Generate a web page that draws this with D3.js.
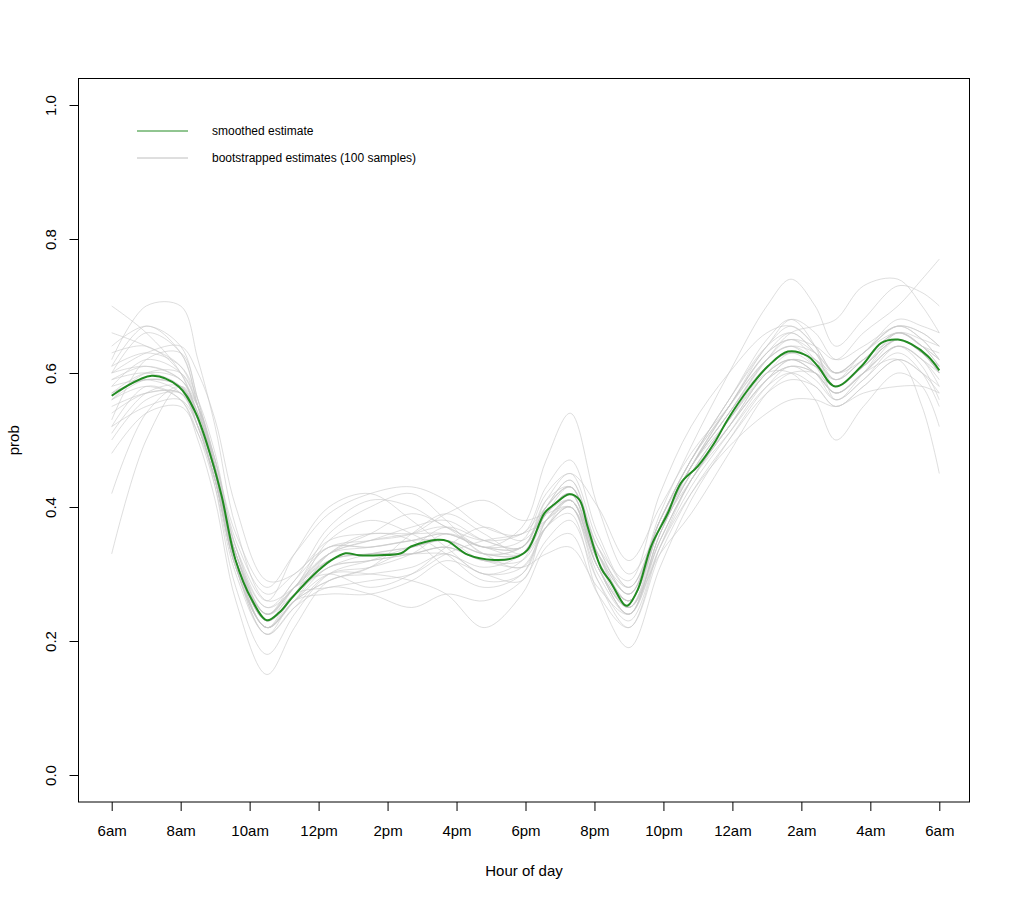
<!DOCTYPE html>
<html>
<head>
<meta charset="utf-8">
<script src="https://cdn.jsdelivr.net/npm/d3@7"></script>
<style>
  body { margin: 0; background: #fff; }
  svg { font-family: "Liberation Sans", Arial, sans-serif; }
</style>
</head>
<body>
<div id="chart"></div>
<script>
// hours after 6am
var tickHours = [0, 2, 4, 6, 8, 10, 12, 14, 16, 18, 20, 22, 24]
var tickLabels = ['6am', '8am', '10am', '12pm', '2pm', '4pm', '6pm', '8pm', '10pm', '12am', '2am', '4am', '6am']
var yTicks = [0, 0.2, 0.4, 0.6, 0.8, 1.0]

// smoothed estimate (hour, prob)
var smoothHours = [0, 1.16, 1.94, 2.43, 2.9, 3.19, 3.59, 4.06, 4.5, 4.85, 5.22, 5.8, 6.38, 6.78, 7.17, 7.75, 8.39, 8.68, 9.45, 9.74, 10.32, 11.09, 11.67, 12.06, 12.55, 12.84, 13.27, 13.56, 13.8, 14.19, 14.48, 14.87, 14.97, 15.26, 15.64, 16.13, 16.51, 17.0, 17.48, 17.87, 18.45, 19.03, 19.61, 20.19, 20.48, 20.98, 21.74, 22.32, 22.8, 23.19, 23.67, 24]
var smoothProb = [0.566, 0.596, 0.58, 0.541, 0.471, 0.416, 0.321, 0.262, 0.231, 0.242, 0.264, 0.296, 0.321, 0.331, 0.328, 0.328, 0.331, 0.341, 0.351, 0.349, 0.329, 0.321, 0.324, 0.336, 0.391, 0.404, 0.419, 0.411, 0.371, 0.309, 0.287, 0.254, 0.253, 0.277, 0.341, 0.391, 0.436, 0.461, 0.496, 0.531, 0.575, 0.61, 0.632, 0.625, 0.61, 0.58, 0.61, 0.645, 0.65, 0.643, 0.625, 0.604]

// bootstrapped estimates, read at these hours
var bootHours = [0, 1, 2, 2.5, 3, 3.6, 4.5, 5.3, 6.3, 7.5, 8.7, 9.7, 10.8, 11.9, 12.6, 13.3, 14.1, 15, 15.9, 16.8, 17.9, 19, 19.7, 20.4, 21, 21.8, 22.8, 23.5, 24]
var boot01 = [0.70,0.66,0.60,0.53,0.44,0.31,0.21,0.25,0.30,0.31,0.33,0.36,0.34,0.33,0.40,0.44,0.33,0.25,0.36,0.46,0.55,0.63,0.66,0.63,0.59,0.62,0.66,0.64,0.63]
var boot02 = [0.33,0.50,0.58,0.55,0.47,0.34,0.25,0.28,0.36,0.40,0.42,0.38,0.33,0.34,0.38,0.40,0.31,0.25,0.35,0.44,0.52,0.59,0.61,0.60,0.57,0.60,0.64,0.61,0.56]
var boot03 = [0.62,0.70,0.70,0.62,0.52,0.37,0.26,0.28,0.33,0.35,0.37,0.38,0.35,0.34,0.41,0.45,0.35,0.28,0.38,0.47,0.55,0.64,0.67,0.64,0.60,0.63,0.68,0.67,0.66]
var boot04 = [0.52,0.58,0.56,0.50,0.41,0.26,0.15,0.22,0.29,0.30,0.31,0.33,0.30,0.31,0.37,0.40,0.29,0.22,0.34,0.44,0.52,0.60,0.62,0.60,0.56,0.59,0.63,0.60,0.55]
var boot05 = [0.58,0.62,0.60,0.55,0.47,0.36,0.28,0.33,0.39,0.42,0.43,0.41,0.37,0.36,0.43,0.47,0.36,0.28,0.38,0.47,0.56,0.64,0.68,0.66,0.62,0.64,0.67,0.66,0.64]
var boot06 = [0.55,0.57,0.57,0.52,0.44,0.31,0.22,0.26,0.30,0.30,0.29,0.27,0.22,0.27,0.34,0.36,0.27,0.22,0.33,0.42,0.50,0.57,0.59,0.58,0.55,0.58,0.62,0.60,0.58]
var boot07 = [0.60,0.61,0.59,0.55,0.46,0.33,0.24,0.28,0.33,0.35,0.36,0.37,0.34,0.37,0.47,0.54,0.40,0.30,0.37,0.46,0.54,0.62,0.64,0.62,0.59,0.63,0.66,0.64,0.62]
var boot08 = [0.56,0.60,0.60,0.55,0.47,0.33,0.23,0.28,0.33,0.34,0.35,0.36,0.34,0.34,0.40,0.43,0.34,0.27,0.39,0.49,0.60,0.70,0.74,0.70,0.64,0.68,0.73,0.72,0.70]
var boot09 = [0.59,0.60,0.58,0.52,0.44,0.31,0.22,0.27,0.28,0.29,0.30,0.33,0.35,0.36,0.38,0.41,0.31,0.24,0.36,0.45,0.53,0.60,0.60,0.56,0.50,0.55,0.60,0.58,0.52]
var boot10 = [0.61,0.63,0.61,0.56,0.48,0.34,0.24,0.28,0.34,0.34,0.35,0.35,0.33,0.33,0.39,0.42,0.32,0.26,0.38,0.46,0.55,0.63,0.65,0.64,0.62,0.66,0.70,0.74,0.77]
var boot11 = [0.50,0.56,0.57,0.53,0.45,0.32,0.22,0.26,0.33,0.36,0.35,0.31,0.28,0.30,0.38,0.41,0.31,0.24,0.36,0.45,0.53,0.60,0.62,0.60,0.57,0.60,0.62,0.55,0.45]
var boot12 = [0.57,0.59,0.58,0.54,0.46,0.33,0.24,0.27,0.31,0.33,0.34,0.35,0.32,0.33,0.39,0.41,0.32,0.26,0.37,0.46,0.54,0.62,0.66,0.67,0.68,0.73,0.74,0.70,0.66]
var boot13 = [0.42,0.54,0.58,0.54,0.46,0.33,0.23,0.27,0.35,0.38,0.36,0.33,0.29,0.30,0.37,0.40,0.31,0.25,0.35,0.44,0.51,0.58,0.60,0.58,0.55,0.58,0.62,0.60,0.57]
var boot14 = [0.60,0.63,0.64,0.60,0.53,0.40,0.29,0.30,0.35,0.36,0.36,0.36,0.34,0.34,0.40,0.44,0.34,0.27,0.37,0.46,0.54,0.62,0.65,0.62,0.58,0.61,0.65,0.63,0.60]
var boot15 = [0.56,0.58,0.56,0.51,0.43,0.30,0.21,0.25,0.28,0.27,0.25,0.27,0.26,0.29,0.35,0.38,0.29,0.23,0.34,0.43,0.51,0.59,0.62,0.60,0.57,0.60,0.64,0.62,0.59]
var boot16 = [0.58,0.59,0.57,0.52,0.44,0.32,0.24,0.29,0.34,0.35,0.36,0.39,0.41,0.38,0.39,0.40,0.33,0.28,0.37,0.44,0.52,0.59,0.62,0.61,0.59,0.62,0.65,0.63,0.61]
var boot17 = [0.54,0.57,0.57,0.52,0.44,0.31,0.22,0.26,0.29,0.31,0.36,0.39,0.36,0.33,0.37,0.40,0.30,0.24,0.34,0.42,0.49,0.54,0.56,0.56,0.55,0.57,0.58,0.58,0.57]
var boot18 = [0.59,0.61,0.59,0.54,0.47,0.35,0.27,0.30,0.34,0.34,0.35,0.36,0.34,0.35,0.42,0.45,0.40,0.32,0.40,0.48,0.55,0.62,0.64,0.63,0.60,0.62,0.66,0.64,0.62]
var boot19 = [0.56,0.59,0.58,0.52,0.44,0.31,0.22,0.26,0.31,0.32,0.33,0.34,0.32,0.32,0.37,0.39,0.27,0.19,0.31,0.41,0.50,0.58,0.61,0.59,0.56,0.59,0.64,0.62,0.60]
var boot20 = [0.66,0.64,0.61,0.55,0.46,0.32,0.22,0.27,0.33,0.36,0.39,0.37,0.33,0.31,0.37,0.41,0.33,0.27,0.38,0.47,0.56,0.64,0.66,0.63,0.58,0.61,0.66,0.65,0.64]
var boot21 = [0.48,0.54,0.55,0.51,0.44,0.31,0.21,0.26,0.27,0.27,0.29,0.32,0.30,0.29,0.38,0.41,0.31,0.24,0.36,0.45,0.53,0.61,0.63,0.62,0.59,0.62,0.66,0.64,0.61]
var boot22 = [0.63,0.64,0.60,0.53,0.43,0.28,0.18,0.24,0.30,0.32,0.34,0.35,0.33,0.34,0.40,0.43,0.33,0.26,0.37,0.46,0.55,0.62,0.64,0.61,0.57,0.60,0.65,0.63,0.60]
var boot23 = [0.57,0.60,0.59,0.54,0.46,0.34,0.26,0.33,0.40,0.42,0.38,0.34,0.30,0.32,0.39,0.42,0.32,0.26,0.37,0.46,0.54,0.61,0.63,0.61,0.58,0.61,0.65,0.63,0.61]
var boot24 = [0.60,0.66,0.63,0.55,0.45,0.32,0.23,0.27,0.32,0.33,0.33,0.33,0.31,0.33,0.39,0.42,0.32,0.26,0.38,0.47,0.56,0.65,0.68,0.64,0.56,0.60,0.66,0.64,0.61]
var boot25 = [0.64,0.67,0.64,0.56,0.46,0.32,0.23,0.27,0.32,0.33,0.34,0.35,0.33,0.33,0.38,0.41,0.31,0.25,0.33,0.39,0.48,0.57,0.60,0.60,0.58,0.61,0.65,0.63,0.60]
var boot26 = [0.57,0.59,0.58,0.53,0.45,0.32,0.23,0.27,0.31,0.32,0.33,0.34,0.32,0.33,0.39,0.43,0.34,0.29,0.42,0.52,0.60,0.66,0.67,0.64,0.60,0.63,0.67,0.65,0.62]
var boot27 = [0.52,0.55,0.56,0.52,0.44,0.32,0.24,0.28,0.32,0.33,0.33,0.34,0.32,0.31,0.33,0.34,0.28,0.24,0.35,0.44,0.52,0.60,0.62,0.61,0.58,0.61,0.65,0.63,0.60]
var boot28 = [0.53,0.62,0.63,0.56,0.46,0.32,0.22,0.26,0.29,0.31,0.34,0.37,0.35,0.34,0.41,0.43,0.32,0.25,0.37,0.46,0.53,0.60,0.63,0.62,0.60,0.63,0.67,0.66,0.64]
var boot29 = [0.61,0.67,0.63,0.55,0.45,0.33,0.25,0.29,0.37,0.41,0.40,0.37,0.35,0.36,0.40,0.43,0.33,0.26,0.37,0.45,0.52,0.59,0.61,0.60,0.57,0.60,0.64,0.62,0.58]
var boot30 = [0.51,0.57,0.58,0.53,0.45,0.33,0.24,0.28,0.30,0.28,0.30,0.34,0.37,0.35,0.39,0.42,0.33,0.27,0.38,0.47,0.55,0.63,0.65,0.63,0.60,0.63,0.67,0.65,0.62]
var bootSamples = [boot01, boot02, boot03, boot04, boot05, boot06, boot07, boot08, boot09, boot10,
    boot11, boot12, boot13, boot14, boot15, boot16, boot17, boot18, boot19, boot20,
    boot21, boot22, boot23, boot24, boot25, boot26, boot27, boot28, boot29, boot30]

var legendLabels = ['smoothed estimate', 'bootstrapped estimates (100 samples)']

var width = 1010
var height = 900
// plot box (note: "top" is a reserved window name, so use boxTop etc.)
var boxLeft = 78.5, boxRight = 969.5, boxTop = 78.5, boxBottom = 802

var svg = d3.select('#chart')
    .append('svg')
    .attr('width', width)
    .attr('height', height)

var x = d3.scaleLinear().domain([0, 24]).range([111.7, 939.3])
var y = d3.scaleLinear().domain([0, 1]).range([775, 105])

// bootstrapped lines
var bootLine = d3.line()
    .x(function (d, i) { return x(bootHours[i]) })
    .y(function (d) { return y(d) })
    .curve(d3.curveCatmullRom.alpha(0.5))

svg.append('g')
    .selectAll('path')
    .data(bootSamples)
    .enter()
    .append('path')
    .attr('d', bootLine)
    .style('fill', 'none')
    .attr('stroke', '#c8c8c8')
    .attr('stroke-opacity', 0.6)
    .attr('stroke-width', 1)

// smoothed estimate
var smoothLine = d3.line()
    .x(function (d, i) { return x(smoothHours[i]) })
    .y(function (d) { return y(d) })
    .curve(d3.curveCatmullRom.alpha(0.5))

svg.append('path')
    .datum(smoothProb)
    .attr('d', smoothLine)
    .style('fill', 'none')
    .attr('stroke', '#228b22')
    .attr('stroke-width', 2)

// box
svg.append('rect')
    .attr('x', boxLeft).attr('y', boxTop)
    .attr('width', boxRight - boxLeft).attr('height', boxBottom - boxTop)
    .style('fill', 'none')
    .attr('stroke', '#000')
    .attr('stroke-width', 1)

// x axis
var xAxis = d3.axisBottom(x)
    .tickValues(tickHours)
    .tickFormat(function (d, i) { return tickLabels[i] })
    .tickSize(9)
    .tickPadding(14)
var gx = svg.append('g')
    .attr('transform', 'translate(0,' + boxBottom + ')')
    .call(xAxis)
gx.select('.domain').remove()
gx.selectAll('text')
    .style('font-size', '15px')
    .style('font-family', '"Liberation Sans", Arial, sans-serif')
    .attr('fill', '#000')
gx.selectAll('line').attr('stroke', '#000')

// y axis
var yAxis = d3.axisLeft(y)
    .tickValues(yTicks)
    .tickFormat(d3.format('.1f'))
    .tickSize(9)
var gy = svg.append('g')
    .attr('transform', 'translate(' + boxLeft + ',0)')
    .call(yAxis)
gy.select('.domain').remove()
gy.selectAll('line').attr('stroke', '#000')
gy.selectAll('text')
    .attr('x', 0).attr('y', 0).attr('dy', null)
    .attr('transform', 'translate(-23,0) rotate(-90)')
    .attr('text-anchor', 'middle')
    .style('font-size', '15px')
    .style('font-family', '"Liberation Sans", Arial, sans-serif')
    .attr('fill', '#000')

// axis titles
svg.append('text')
    .attr('x', (boxLeft + boxRight) / 2)
    .attr('y', 876)
    .attr('text-anchor', 'middle')
    .style('font-size', '15px')
    .text('Hour of day')

svg.append('text')
    .attr('transform', 'translate(19,' + ((boxTop + boxBottom) / 2) + ') rotate(-90)')
    .attr('text-anchor', 'middle')
    .style('font-size', '15px')
    .text('prob')

// legend
var legendColors = ['#228b22', '#bebebe']
var legend = svg.append('g')
legend.selectAll('line')
    .data(legendLabels)
    .enter()
    .append('line')
    .attr('x1', 137).attr('x2', 188)
    .attr('y1', function (d, i) { return 131 + i * 27 })
    .attr('y2', function (d, i) { return 131 + i * 27 })
    .attr('stroke', function (d, i) { return legendColors[i] })
    .attr('stroke-width', 1)
legend.selectAll('text')
    .data(legendLabels)
    .enter()
    .append('text')
    .attr('x', 212)
    .attr('y', function (d, i) { return 135 + i * 27 })
    .style('font-size', '12px')
    .text(function (d) { return d })
</script>
</body>
</html>
